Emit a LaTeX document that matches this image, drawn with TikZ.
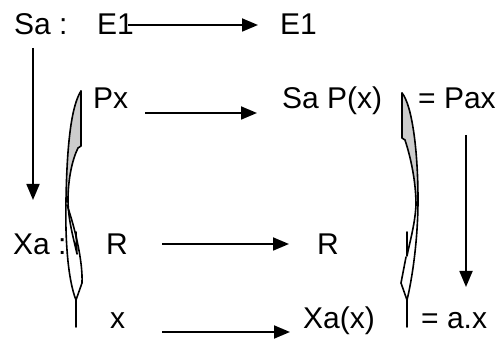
\documentclass[tikz,border=0pt]{standalone}
\usepackage{fontspec}
\setmainfont{Liberation Sans}
\usetikzlibrary{arrows.meta}
\begin{document}
\begin{tikzpicture}[x=1pt,y=-1pt,
  lbl/.style={anchor=base west,inner sep=0pt,font=\fontsize{30}{36}\selectfont},
  arr/.style={line width=1.8pt,-{Triangle[length=16pt,width=13pt]}},
  shp/.style={line width=1.6pt,line join=round,line cap=round},
  shpfill/.style={fill=gray!40}]
\useasboundingbox (0,0) rectangle (501,339);
% texts
\node[lbl] (sa) at (14,35) {Sa :};
\node[lbl] (e1a) at (97,35) {E1};
\node[lbl] (e1b) at (280,35) {E1};
\node[lbl] (px) at (93,109) {Px};
\node[lbl] (sapx) at (282,109) {Sa P(x)};
\node[lbl] (pax) at (418,109) {= Pax};
\node[lbl] (xa) at (13,255) {Xa :};
\node[lbl] (ra) at (106,255) {R};
\node[lbl] (rb) at (317,255) {R};
\node[lbl] (xx) at (110,328) {x};
\node[lbl] (xax) at (303,328) {Xa(x)};
\node[lbl] (ax) at (421,328) {= a.x};
% arrow end points
\coordinate (r1s) at (128,25);  \coordinate (r1e) at (258,25);
\coordinate (r2s) at (145,113); \coordinate (r2e) at (257,113);
\coordinate (r3s) at (162,244); \coordinate (r3e) at (289,244);
\coordinate (r4s) at (162,332); \coordinate (r4e) at (290,332);
\coordinate (vls) at (33,48);   \coordinate (vle) at (33,200);
\coordinate (vrs) at (466,135); \coordinate (vre) at (466,287);
\draw[arr] (r1s) -- (r1e);
\draw[arr] (r2s) -- (r2e);
\draw[arr] (r3s) -- (r3e);
\draw[arr] (r4s) -- (r4e);
\draw[arr] (vls) -- (vle);
\draw[arr] (vrs) -- (vre);
% left curved shape
\fill[shpfill] (81,91) .. controls (72,105) and (67,140) .. (66,200) -- (68,200) .. controls (68,180) and (72,160) .. (78,148) -- (81,146) -- cycle;
\draw[shp] (81,91) .. controls (72,105) and (67,140) .. (66,200) .. controls (65,240) and (68,280) .. (76,300) -- (76,327);
\draw[shp] (81,91) -- (81,146) -- (78,148) .. controls (72,160) and (68,180) .. (68,200) .. controls (68,220) and (74,240) .. (77,254) -- (76,232);
\draw[shp] (67,205) .. controls (74,225) and (83,260) .. (82,283) -- (76,300);
% right curved shape
\fill[shpfill] (402,93) .. controls (412,105) and (418,150) .. (418,200) -- (416,200) .. controls (415,175) and (410,155) .. (405,140) -- (402,138) -- cycle;
\draw[shp] (402,93) .. controls (412,105) and (418,150) .. (418,200) .. controls (418,240) and (412,280) .. (407,300) -- (407,327);
\draw[shp] (402,93) -- (402,138) -- (405,140) .. controls (410,155) and (416,180) .. (416,205) .. controls (415,225) and (409,245) .. (407,256) -- (407,232);
\draw[shp] (406,257) -- (401,283) -- (407,300);
\end{tikzpicture}
\end{document}
